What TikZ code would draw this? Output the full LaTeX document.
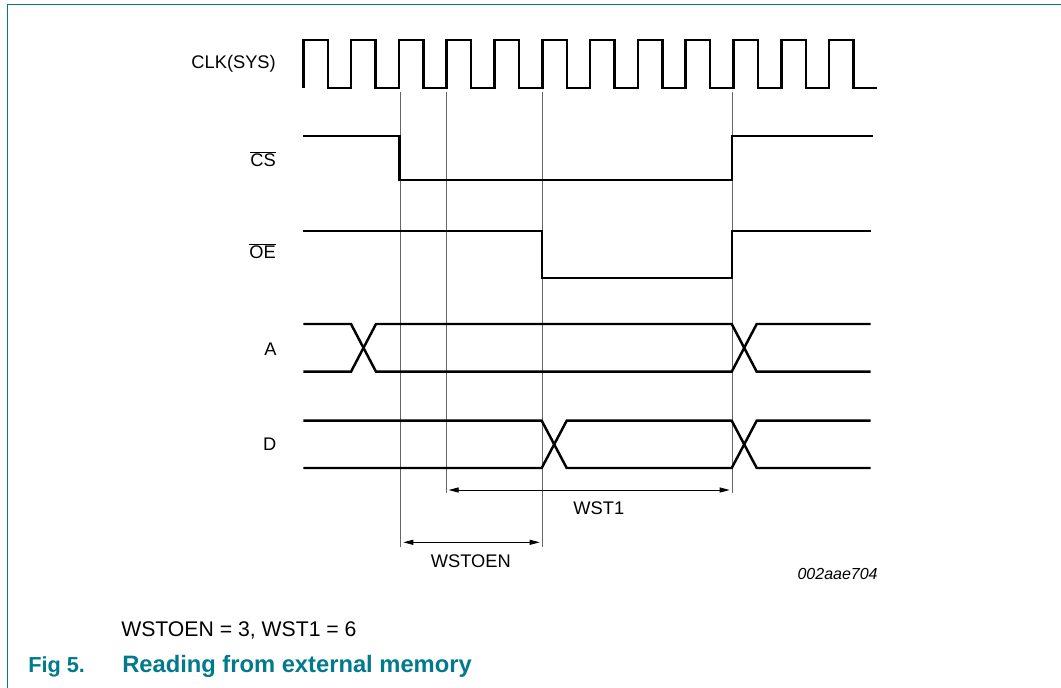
\documentclass[tikz,border=0pt]{standalone}
\usepackage{fontspec}
\usepackage{graphicx}
\setmainfont{Liberation Sans}
\usetikzlibrary{arrows.meta}
\definecolor{nxteal}{RGB}{0,122,140}
\begin{document}
\begin{tikzpicture}[x=0.75pt,y=-0.75pt,
  sig/.style={line width=1.85pt, line join=miter},
  guide/.style={line width=0.7pt, draw=black!60},
  dimline/.style={line width=0.6pt, {Triangle[length=7.5pt,width=3.8pt]}-{Triangle[length=7.5pt,width=3.8pt]}, shorten <=2pt, shorten >=2pt},
  lbl/.style={font=\fontsize{13.7}{16}\selectfont, inner sep=0pt},
  ]
\useasboundingbox (0,0) rectangle (1061,688);
% frame
\draw[nxteal, line width=1pt] (7.3,688) -- (7.3,4.7) -- (1061,4.7);

% guide lines
\coordinate (g1t) at (400.7,92);  \coordinate (g1b) at (400.7,547);
\coordinate (g2t) at (446,92);    \coordinate (g2b) at (446,493);
\coordinate (g3t) at (542.3,92);  \coordinate (g3b) at (542.3,547);
\coordinate (g4t) at (732.3,92);  \coordinate (g4b) at (732.3,493);
\draw[guide] (g1t) -- (g1b);
\draw[guide] (g2t) -- (g2b);
\draw[guide] (g3t) -- (g3b);
\draw[guide] (g4t) -- (g4b);

% clock
\draw[sig] (303.3,88) \foreach \k in {0,...,11} {
  -- ({303.3+47.8*\k},88) -- ({303.3+47.8*\k},40) -- ({327.8+47.8*\k},40) -- ({327.8+47.8*\k},88) } -- (877,88);

% CS
\draw[sig] (303.3,136) -- (399.5,136) -- (399.5,180) -- (732,180) -- (732,136) -- (873,136);
% OE
\draw[sig] (303.3,231) -- (542,231) -- (542,278) -- (732,278) -- (732,231) -- (870.7,231);
% A
\draw[sig] (303.3,324) -- (351,324) -- (376,371.7) -- (731.7,371.7) -- (756.7,324) -- (870.7,324);
\draw[sig] (303.3,371.7) -- (351,371.7) -- (376,324) -- (731.7,324) -- (756.7,371.7) -- (870.7,371.7);
% D
\draw[sig] (303.3,420.7) -- (541.7,420.7) -- (566.7,468) -- (731.7,468) -- (756.7,420.7) -- (870.7,420.7);
\draw[sig] (303.3,468) -- (541.7,468) -- (566.7,420.7) -- (731.7,420.7) -- (756.7,468) -- (870.7,468);

% labels
\node[lbl, anchor=base east] (lclk) at (276,68.3) {CLK(SYS)};
\node[lbl, anchor=base east] (lcs) at (276,167) {$\overline{\hbox{CS}}$};
\node[lbl, anchor=base east] (loe) at (276,258.5) {$\overline{\hbox{OE}}$};
\node[lbl, anchor=base east] (la) at (276.7,355) {A};
\node[lbl, anchor=base east] (ld) at (276.7,450) {D};

% dimensions
\coordinate (w1a) at (446,490); \coordinate (w1b) at (732.3,490);
\coordinate (w0a) at (400.7,542.3); \coordinate (w0b) at (542.3,542.3);
\draw[dimline] (w1a) -- (w1b);
\draw[dimline] (w0a) -- (w0b);
\node[lbl, anchor=base] (lwst1) at (598.8,514) {WST1};
\node[lbl, anchor=base] (lwstoen) at (470.8,567) {WSTOEN};

% id
\node[anchor=base west, inner sep=0pt, font=\itshape\fontsize{12}{14}\selectfont] (id) at (797.3,579.3) {002aae704};

% note and caption
\node[anchor=base west, inner sep=0pt, font=\fontsize{15.9}{18}\selectfont] (note) at (121,636.5) {WSTOEN = 3, WST1 = 6};
\node[anchor=base west, inner sep=0pt, text=nxteal, font=\bfseries\fontsize{16.3}{20}\selectfont] (fig) at (28,672.7) {Fig 5.};
\node[anchor=base west, inner sep=0pt, text=nxteal, font=\bfseries\fontsize{17.8}{20}\selectfont] (cap) at (122,672.7) {Reading from external memory};
\end{tikzpicture}
\end{document}
